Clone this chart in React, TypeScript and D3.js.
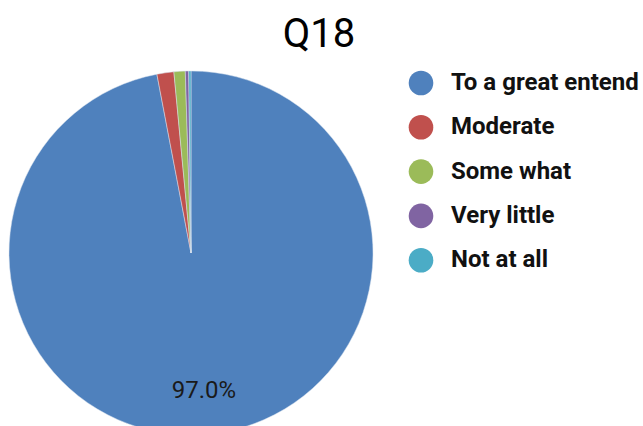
import { useEffect, useRef } from "react";
import * as d3 from "d3";

const categories = ["To a great entend", "Moderate", "Some what", "Very little", "Not at all"];
const values = [97.0, 1.5, 1.0, 0.3, 0.2];
const colors = ["#4F81BD", "#C0504D", "#9BBB59", "#8064A2", "#4BACC6"];
const title = "Q18";

function App() {
  const ref = useRef<SVGSVGElement>(null);

  useEffect(() => {
    const svg = d3.select(ref.current);
    svg.selectAll("*").remove();
    const width = 643;
    const height = 426;
    const cx = 191;
    const cy = 253;
    const radius = 182;

    const data = categories.map((c, i) => ({ name: c, value: values[i], color: colors[i] }));
    const total = d3.sum(values);

    const pie = d3
      .pie<{ name: string; value: number; color: string }>()
      .sort(null)
      .value((d) => d.value);
    const arc = d3.arc<d3.PieArcDatum<{ name: string; value: number; color: string }>>()
      .innerRadius(0)
      .outerRadius(radius);
    const labelArc = d3.arc<d3.PieArcDatum<{ name: string; value: number; color: string }>>()
      .innerRadius(radius * 0.75)
      .outerRadius(radius * 0.75);

    svg.attr("width", width).attr("height", height);

    svg
      .append("text")
      .attr("x", 319)
      .attr("y", 47)
      .attr("text-anchor", "middle")
      .attr("font-family", "Roboto")
      .attr("font-size", 40)
      .attr("fill", "#000")
      .text(title);

    const g = svg.append("g").attr("transform", `translate(${cx},${cy})`);
    const arcs = pie(data);

    g.selectAll("path")
      .data(arcs)
      .enter()
      .append("path")
      .attr("d", arc)
      .attr("fill", (d) => d.data.color)
      .attr("stroke", "#d9e2ee")
      .attr("stroke-width", 0.5);

    // only the big slice carries a label
    g.selectAll("text.lbl")
      .data(arcs.filter((d) => d.data.value / total > 0.05))
      .enter()
      .append("text")
      .attr("class", "lbl")
      .attr("transform", (d) => `translate(${labelArc.centroid(d)})`)
      .attr("dy", "0.36em")
      .attr("text-anchor", "middle")
      .attr("font-family", "Roboto")
      .attr("font-size", 24)
      .attr("fill", "#1a1a1a")
      .text((d) => `${((d.data.value / total) * 100).toFixed(1)}%`);

    const legend = svg.append("g").attr("transform", "translate(421,83)");
    const row = legend
      .selectAll("g")
      .data(data)
      .enter()
      .append("g")
      .attr("transform", (_d, i) => `translate(0,${i * 44.3})`);
    row.append("circle").attr("r", 12.3).attr("fill", (d) => d.color);
    row
      .append("text")
      .attr("x", 30)
      .attr("y", 7)
      .attr("font-family", "Roboto")
      .attr("font-weight", 700)
      .attr("font-size", 24)
      .attr("fill", "#111")
      .text((d) => d.name);
  }, []);

  return <svg ref={ref} style={{ position: "absolute", left: 0, top: 0 }}></svg>;
}

export default App;
